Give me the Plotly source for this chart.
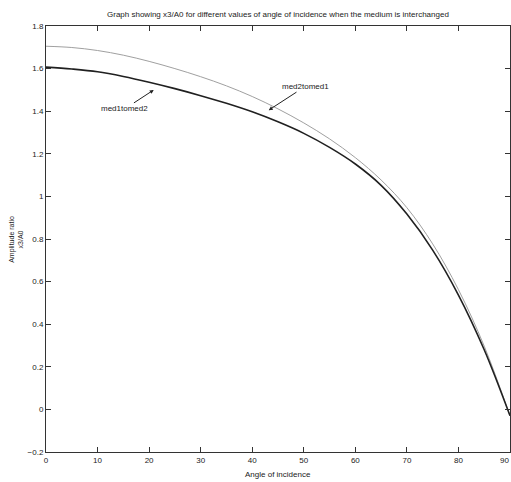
import plotly.graph_objects as go

angles = [0, 5, 10, 15, 20, 25, 30, 35, 40, 45, 50, 55, 60, 65, 70, 75, 80, 85, 90]
med2tomed1 = [1.705, 1.699, 1.685, 1.663, 1.634, 1.600, 1.562, 1.519, 1.469, 1.411,
              1.345, 1.270, 1.182, 1.077, 0.947, 0.777, 0.562, 0.297, -0.03]
med1tomed2 = [1.607, 1.598, 1.585, 1.563, 1.536, 1.506, 1.473, 1.437, 1.397, 1.350,
              1.296, 1.230, 1.152, 1.052, 0.917, 0.748, 0.537, 0.28, -0.03]
x_ticks = [0, 10, 20, 30, 40, 50, 60, 70, 80, 90]
y_ticks = [-0.2, 0, 0.2, 0.4, 0.6, 0.8, 1, 1.2, 1.4, 1.6, 1.8]

FONT = "Liberation Sans Narrow, Liberation Sans, Arial Narrow, sans-serif"

fig = go.Figure()
fig.add_trace(go.Scatter(x=angles, y=med2tomed1, mode="lines", name="med2tomed1",
                         line=dict(color="#a0a0a0", width=1, shape="spline", smoothing=1)))
fig.add_trace(go.Scatter(x=angles, y=med1tomed2, mode="lines", name="med1tomed2",
                         line=dict(color="#202020", width=1.6, shape="spline", smoothing=1)))

axis_common = dict(showgrid=False, zeroline=False, showline=True, linecolor="#333",
                   linewidth=1, mirror="ticks", ticks="inside", ticklen=5,
                   tickcolor="#333", tickfont=dict(family=FONT, size=8, color="#222"))
fig.update_xaxes(range=[0, 90], tickvals=x_ticks, **axis_common)
fig.update_yaxes(range=[-0.2, 1.8], tickvals=y_ticks, **axis_common)

fig.update_layout(
    width=511, height=482,
    margin=dict(l=46, r=1, t=26, b=30),
    paper_bgcolor="white", plot_bgcolor="white",
    showlegend=False,
    font=dict(family=FONT, size=8, color="#222"),
    annotations=[
        dict(text="Graph showing x3/A0 for different values of angle of incidence when the medium is interchanged",
             xref="paper", yref="paper", x=0.5, y=1.0, yshift=12, showarrow=False,
             xanchor="center", yanchor="middle", font=dict(size=8)),
        dict(text="Angle of incidence", xref="paper", yref="paper", x=0.5, y=-0.052,
             showarrow=False, xanchor="center", yanchor="middle", font=dict(size=8)),
        dict(text="Amplitude ratio<br>x3/A0", xref="paper", yref="paper", x=-0.065, y=0.5,
             showarrow=False, textangle=-90, xanchor="center", yanchor="middle",
             font=dict(size=7)),
        dict(text=str(x_ticks[-1]), xref="x", yref="paper", x=x_ticks[-1], y=0,
             yshift=-2, xshift=1, showarrow=False, xanchor="right", yanchor="top",
             font=dict(size=8)),
        dict(text="med1tomed2", x=20.9, y=1.50, ax=-29, ay=19, showarrow=True,
             arrowhead=2, arrowsize=0.8, arrowwidth=1, arrowcolor="#222",
             font=dict(size=8)),
        dict(text="med2tomed1", x=43.2, y=1.405, ax=37, ay=-24, showarrow=True,
             arrowhead=2, arrowsize=0.8, arrowwidth=1, arrowcolor="#222",
             font=dict(size=8)),
    ],
)

fig.write_html("out.html", config={"displayModeBar": False},
               post_script="document.body.style.margin='0px';document.body.style.padding='0px';document.body.style.overflow='hidden';")
